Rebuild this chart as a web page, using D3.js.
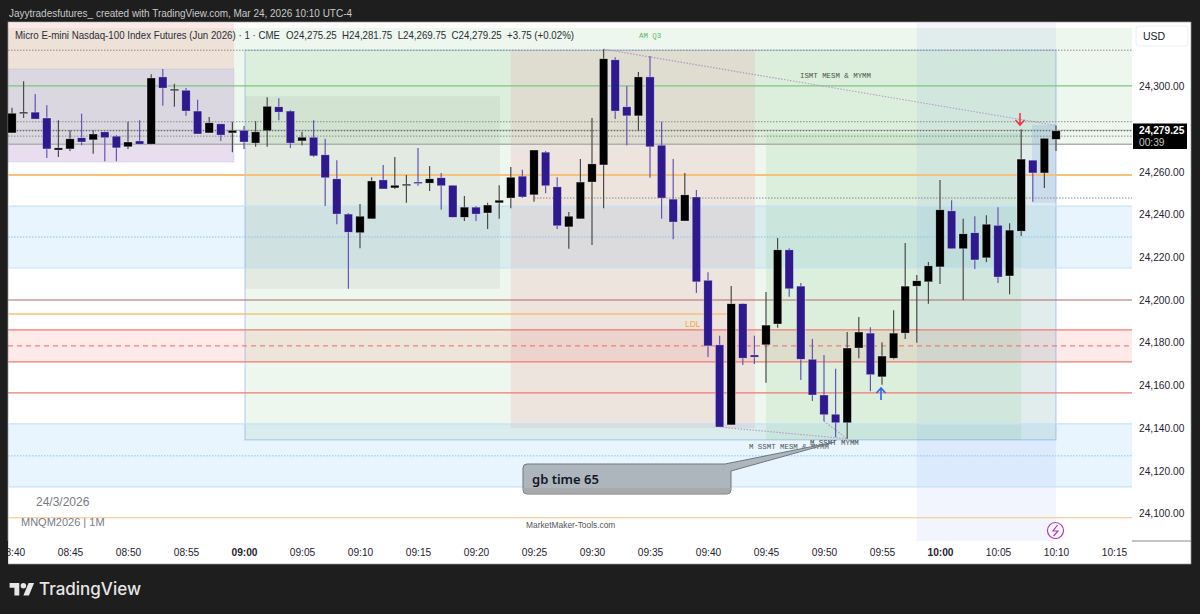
<!DOCTYPE html>
<html>
<head>
<meta charset="utf-8">
<script src="https://cdn.jsdelivr.net/npm/d3@7"></script>
<style>
  html, body { margin: 0; padding: 0; background: #1e1e1e; }
  svg { display: block; }
  text { font-family: "Liberation Sans", Arial, sans-serif; }
  .mono { font-family: "Liberation Mono", monospace; }
</style>
</head>
<body>
<svg id="chart" width="1200" height="614"></svg>
<script>
var firstBar = "08:40";

var opens = [24278.25,24287.5,24288,24285.25,24270.25,24270.75,24276,24275,24278.75,24276.75,
  24271.75,24274.5,24273,24304.5,24298.25,24298.25,24288.5,24278.25,24282.5,24278.25,
  24279.5,24273.5,24279.25,24290.5,24288.5,24274.5,24276.25,24268,24256.75,24240.25,
  24231.5,24238,24256.25,24252.5,24253.75,24255.25,24254.75,24257.25,24253.75,24238.75,
  24243.5,24240.75,24245.5,24247.75,24258,24249.25,24269.25,24253,24234.25,24238,
  24255.25,24263.25,24312.5,24290.5,24286.25,24304.5,24272.5,24247.25,24237,24248.25,
  24209.25,24179,24141.5,24198.25,24174.25,24179,24188.75,24223.5,24206.5,24172.25,
  24155.5,24146.5,24142.5,24177.5,24184.5,24164,24172.75,24184.5,24206.5,24208.5,
  24215.5,24241.75,24224,24231.5,24219.75,24235,24211.25,24232.25,24265.5,24259.5,
  24275.25];
var highs = [24290,24302.5,24296.5,24291.25,24284.25,24279.5,24287.25,24279.5,24278.75,24277.25,
  24283.5,24284.25,24305.75,24308.25,24301.25,24299.25,24293.75,24285.75,24282.5,24283.5,
  24281.5,24283.75,24295,24294.5,24289,24278.75,24284.25,24275.5,24265.5,24240.75,
  24245,24257.5,24263.25,24267,24258.5,24271.25,24262.75,24259.5,24253.75,24248.75,
  24244,24245.5,24253.75,24262.25,24261,24270.25,24269.75,24257.5,24241.25,24266,
  24285.25,24317.5,24313.75,24300.25,24306.75,24314.25,24283.5,24266,24259.5,24251.5,
  24213,24183.25,24206.5,24198.5,24183.25,24203.75,24229,24224.25,24208,24181.75,
  24174.25,24167.75,24185,24192,24187.25,24180.25,24195.25,24226.75,24211.75,24217.75,
  24256.25,24246.75,24238,24239.25,24239.75,24243.5,24236,24280,24265.5,24275.75,
  24281.75];
var lows = [24278.25,24285.25,24284.75,24266.5,24267,24269.75,24272.5,24268.5,24265,24265,
  24270.75,24273,24273,24291,24290.5,24286.25,24277.75,24278.25,24274.5,24269.25,
  24270.75,24271.75,24271.75,24284.25,24271.25,24272.5,24267,24244,24235.5,24205.25,
  24224.25,24238,24252,24252,24245.5,24253.5,24251,24242.25,24238.75,24237,
  24237,24233.25,24238,24243,24247.75,24246,24250,24233.25,24224,24238,
  24225.75,24243,24284.75,24272.5,24279.25,24257.25,24238,24228.5,24237,24203.25,
  24173.25,24140.5,24141.5,24169.5,24170,24161.25,24187,24201.5,24162.5,24152.75,
  24143.25,24135.75,24135,24172.75,24157.25,24160.25,24172.25,24181.75,24180,24198.25,
  24207.5,24224,24200,24214.5,24217.75,24208,24202.75,24230,24246,24252.5,
  24269.75];
var closes = [24287.5,24288,24284.75,24270.75,24271.25,24275.5,24274,24277.75,24276,24271.25,
  24274,24273,24304,24299.25,24298.75,24288.5,24277.75,24283,24277.25,24279.5,
  24274,24278.75,24290.75,24288,24273.5,24276.25,24267.5,24257.25,24240.25,24231.75,
  24239.25,24255.75,24252,24253.75,24254.25,24254.75,24256.75,24253.5,24238.75,24243.5,
  24240.25,24244.5,24246.75,24257.5,24248.25,24270.25,24253.5,24234.75,24239.25,24255.25,
  24263.75,24313,24288.5,24286.25,24304.5,24271.75,24247.75,24236.5,24249.25,24208.5,
  24178.5,24140.5,24198.25,24172.75,24173.25,24188.25,24223.5,24205.25,24172.25,24155.5,
  24146.25,24142.5,24177.5,24185,24165,24173.75,24184.5,24206.5,24209,24216,
  24242.25,24224,24231,24218.75,24235.5,24210.75,24232.75,24266,24259.5,24275.75,
  24279.25];

var priceTicks = [24100,24120,24140,24160,24180,24200,24220,24240,24260,24300];
var timeTicks = ["08:40","08:45","08:50","08:55","09:00","09:05","09:10","09:15","09:20","09:25",
  "09:30","09:35","09:40","09:45","09:50","09:55","10:00","10:05","10:10","10:15"];
var boldTicks = ["09:00","10:00"];

// shaded zones: name, start, end (minutes of the day), top and bottom price
var zoneNames = ["amBand","blueUpper","blueLower","redBand","pinkBox","lilacBox","bigGreen","greyGreen","peach","green2","blueColumn","blueSmall"];
var zoneStart = [500,500,500,500,500,500,540.09,540.09,563,585,598,607.93];
var zoneEnd   = [700,700,700,700,539.14,539.14,610,562.07,584.05,607,610,610];
var zoneTop   = [24327.4,24244,24142,24186,24340,24308.2,24317,24295.5,24317,24278.25,24340,24282];
var zoneBot   = [24273,24215,24112.5,24171,24308.2,24264.6,24134.5,24205.25,24140,24134.5,24087,24245.5];

var solidLevels = [24300.25,24279.5,24273,24258.5,24200,24186,24171,24156.5,24098,24244,24215,24142,24112.5];
var solidKinds  = ["green","grey","greyThick","orange","brown","red","red","red","orangeThin","blue","blue","blue","blue"];
var dottedLevels = [24317,24283.5,24276.75];
var dottedBlue = [24229.5,24127];
var lastPrice = 24279.25;
var midLevel = 24178.5;
var lowOrangeLevel = 24193.5;
var lowOrangeEnd = "09:42";
var rightDotLevel = 24247.75;
var rightDotStart = "09:25";

var headerName = "Micro E-mini Nasdaq-100 Index Futures (Jun 2026) \u00b7 1 \u00b7 CME";
var headerValues = "O24,275.25  H24,281.75  L24,269.75  C24,279.25  +3.75 (+0.02%)";

var zoneStyle = {
  amBand: ["rgba(76,175,80,0.1)", "none"],
  blueUpper: ["rgba(33,150,243,0.1)", "none"],
  blueLower: ["rgba(33,150,243,0.1)", "none"],
  redBand: ["rgba(255,82,82,0.12)", "none"],
  pinkBox: ["rgba(240,100,100,0.15)", "none"],
  lilacBox: ["rgba(120,50,160,0.16)", "rgba(120,100,200,0.12)"],
  bigGreen: ["rgba(76,175,80,0.1)", "rgba(100,150,220,0.4)"],
  greyGreen: ["rgba(100,90,90,0.08)", "none"],
  peach: ["rgba(240,100,120,0.13)", "none"],
  green2: ["rgba(76,175,80,0.1)", "none"],
  blueColumn: ["rgba(70,120,235,0.07)", "none"],
  blueSmall: ["rgba(70,120,235,0.14)", "none"]
};
var levelStyle = {
  green: ["#7cc680", 1.3], grey: ["#a3a7a3", 1], greyThick: ["#adb1ad", 1.5],
  orange: ["#f5c27c", 2], orangeThin: ["#f7c47f", 1.2], brown: ["#b06a66", 1.2],
  red: ["#ef7a72", 1.3], blue: ["#c6e2f9", 1.2]
};

var paneL = 8, paneR = 1132, paneT = 23, paneB = 541;
var upColor = "#000000", downColor = "#2e1a8e";

function minutes(s) {
  var p = s.split(":");
  return +p[0] * 60 + +p[1];
}
function hhmm(m) {
  return d3.format("02")(Math.floor(m / 60)) + ":" + d3.format("02")(m % 60);
}

var x = d3.scaleLinear().domain([minutes("08:40"), minutes("10:10")]).range([12, 1056]);
var y = d3.scaleLinear().domain([24100, 24300]).range([513.5, 86.5]);

var bars = opens.map(function (o, i) {
  return { t: minutes(firstBar) + i, o: o, h: highs[i], l: lows[i], c: closes[i] };
});

var svg = d3.select("#chart");
var defs = svg.append("defs");
defs.append("clipPath").attr("id", "pane").append("rect")
    .attr("x", paneL).attr("y", paneT).attr("width", paneR - paneL).attr("height", paneB - paneT);

// frame
svg.append("rect").attr("x", paneL).attr("y", 22).attr("width", 1183).attr("height", 542)
   .attr("fill", "#ffffff").attr("stroke", "#9a9a9a").attr("stroke-width", 0.7);

var pane = svg.append("g").attr("clip-path", "url(#pane)");

// zones
zoneNames.forEach(function (n, i) {
  pane.append("rect")
      .attr("x", x(zoneStart[i]))
      .attr("y", y(zoneTop[i]))
      .attr("width", x(zoneEnd[i]) - x(zoneStart[i]))
      .attr("height", y(zoneBot[i]) - y(zoneTop[i]))
      .attr("fill", zoneStyle[n][0])
      .attr("stroke", zoneStyle[n][1])
      .attr("stroke-width", n == "bigGreen" ? 1.2 : 1);
});

// horizontal levels
solidLevels.forEach(function (p, i) {
  var st = levelStyle[solidKinds[i]];
  pane.append("line").attr("x1", paneL).attr("x2", paneR)
      .attr("y1", y(p)).attr("y2", y(p))
      .attr("stroke", st[0]).attr("stroke-width", st[1]);
});
pane.append("line").attr("x1", paneL).attr("x2", x(minutes(lowOrangeEnd)))
    .attr("y1", y(lowOrangeLevel)).attr("y2", y(lowOrangeLevel))
    .attr("stroke", "#f5c27c").attr("stroke-width", 1.5);
dottedLevels.forEach(function (p) {
  pane.append("line").attr("x1", paneL).attr("x2", paneR)
      .attr("y1", y(p)).attr("y2", y(p))
      .attr("stroke", "#8a8a8a").attr("stroke-width", 1).attr("stroke-dasharray", "1.5 1.5");
});
pane.append("line").attr("x1", x(minutes(rightDotStart))).attr("x2", paneR)
    .attr("y1", y(rightDotLevel)).attr("y2", y(rightDotLevel))
    .attr("stroke", "#8a8a8a").attr("stroke-width", 1).attr("stroke-dasharray", "1.5 1.5");
dottedBlue.forEach(function (p) {
  pane.append("line").attr("x1", paneL).attr("x2", paneR)
      .attr("y1", y(p)).attr("y2", y(p))
      .attr("stroke", "#8cc2ec").attr("stroke-width", 1).attr("stroke-dasharray", "1.5 1.5");
});
pane.append("line").attr("x1", paneL).attr("x2", paneR)
    .attr("y1", y(midLevel)).attr("y2", y(midLevel))
    .attr("stroke", "#ef6a62").attr("stroke-width", 1).attr("stroke-dasharray", "5 4");
pane.append("line").attr("x1", paneL).attr("x2", paneR)
    .attr("y1", y(lastPrice)).attr("y2", y(lastPrice))
    .attr("stroke", "#555").attr("stroke-width", 1).attr("stroke-dasharray", "1 2");

// smt connectors
var smt = [
  [minutes("09:31"), 24317.5, minutes("10:10"), 24281.75],
  [minutes("09:41"), 24140.5, minutes("09:52"), 24135],
  [minutes("09:50"), 24143.25, minutes("09:52"), 24135]
];
smt.forEach(function (s) {
  pane.append("line").attr("x1", x(s[0])).attr("y1", y(s[1])).attr("x2", x(s[2])).attr("y2", y(s[3]))
      .attr("stroke", "#b49ac4").attr("stroke-width", 1.1).attr("stroke-dasharray", "1.5 1.5");
});

// candles
var candles = pane.selectAll("g.bar").data(bars).enter().append("g").attr("class", "bar");
candles.append("line")
    .attr("x1", function (d) { return x(d.t); })
    .attr("x2", function (d) { return x(d.t); })
    .attr("y1", function (d) { return y(d.h); })
    .attr("y2", function (d) { return y(d.l); })
    .attr("stroke", function (d) { return d.c >= d.o ? "#4a4a4a" : "#6355b3"; })
    .attr("stroke-width", 1.2);
candles.append("rect")
    .attr("x", function (d) { return x(d.t) - 4.2; })
    .attr("width", 8.4)
    .attr("y", function (d) { return y(Math.max(d.o, d.c)); })
    .attr("height", function (d) { return Math.max(1.5, Math.abs(y(d.o) - y(d.c))); })
    .attr("fill", function (d) { return d.c >= d.o ? upColor : downColor; })
    .attr("stroke", "rgba(255,255,255,0.55)")
    .attr("stroke-width", 0.6);

// axes
var yAxis = d3.axisRight(y).tickValues(priceTicks).tickSize(0).tickPadding(0)
    .tickFormat(function (d) { return d3.format(",.2f")(d); });
var priceG = svg.append("g").attr("transform", "translate(1139,0)").call(yAxis);
priceG.select(".domain").remove();
priceG.selectAll("text").attr("font-size", 10.2).attr("fill", "#1f2430")
    .style("font-family", '"Liberation Sans", sans-serif');

var xAxis = d3.axisBottom(x).tickValues(timeTicks.map(minutes)).tickSize(0).tickPadding(0)
    .tickFormat(hhmm);
var timeG = svg.append("g").attr("transform", "translate(0,549)").call(xAxis);
timeG.select(".domain").remove();
timeG.selectAll("text").attr("font-size", 10.2).attr("fill", "#1f2430")
    .style("font-family", '"Liberation Sans", sans-serif')
    .attr("font-weight", function (d) { return boldTicks.indexOf(hhmm(d)) >= 0 ? "bold" : "normal"; });
svg.append("rect").attr("x", 0).attr("y", 541).attr("width", 8).attr("height", 30).attr("fill", "#1e1e1e");

svg.append("line").attr("x1", paneR).attr("x2", 1191).attr("y1", 541).attr("y2", 541)
   .attr("stroke", "#8a8a8a").attr("stroke-width", 1);

// usd box
svg.append("rect").attr("x", 1136).attr("y", 26).attr("width", 52).attr("height", 20).attr("rx", 3)
   .attr("fill", "#fff").attr("stroke", "#eceef2");
svg.append("text").attr("x", 1143).attr("y", 40).attr("font-size", 10.5).attr("fill", "#131722").text("USD");

// last price tag
svg.append("rect").attr("x", 1133).attr("y", 123.5).attr("width", 54).attr("height", 25.5).attr("fill", "#000");
svg.append("text").attr("x", 1139).attr("y", 134).attr("font-size", 10.2).attr("font-weight", "bold").attr("fill", "#fff")
   .text(d3.format(",.2f")(lastPrice));
svg.append("text").attr("x", 1139).attr("y", 146).attr("font-size", 10.2).attr("fill", "#c8c8c8").text("00:39");

// header texts
svg.append("text").attr("x", 9).attr("y", 17).attr("font-size", 11.5).attr("fill", "#c9c9c9")
   .attr("textLength", 343).attr("lengthAdjust", "spacingAndGlyphs")
   .text("Jayytradesfutures_ created with TradingView.com, Mar 24, 2026 10:10 UTC-4");
svg.append("text").attr("x", 15).attr("y", 39).attr("font-size", 11).attr("fill", "#2a2e39")
   .attr("textLength", 265).attr("lengthAdjust", "spacingAndGlyphs").text(headerName);
svg.append("text").attr("x", 286).attr("y", 39).attr("font-size", 11).attr("fill", "#2a2e39")
   .attr("textLength", 288).attr("lengthAdjust", "spacingAndGlyphs")
   .style("white-space", "pre").text(headerValues);

// chart notes
function note(tx, ty, size, color, str, cls) {
  return svg.append("text").attr("class", cls || null).attr("x", tx).attr("y", ty)
      .attr("font-size", size).attr("fill", color).text(str);
}
note(639, 38, 7.4, "#5cb862", "AM Q3", "mono");
note(800, 78, 7.4, "#4c564f", "ISMT MESM & MYMM", "mono");
note(685, 327, 8.4, "#f2a93b", "LDL");
note(749, 449, 7.4, "#50565a", "M SSMT MESM & MYMM", "mono");
note(810, 445, 7.4, "#43494d", "M SSMT MYMM", "mono");
note(36, 506, 12, "#787b86", "24/3/2026");
note(21, 526, 11, "#787b86", "MNQM2026 | 1M");
note(526, 528, 8.4, "#555", "MarketMaker-Tools.com");

// callout
var callPath = "M527,464 H725 L835,442 L731,471 V490 Q731,494 727,494 H527 Q523,494 523,490 V468 Q523,464 527,464 Z";
svg.append("path").attr("d", callPath).attr("fill", "#adb5bd").attr("stroke", "#6f777e").attr("stroke-width", 1);
svg.append("path").attr("d", "M523.5,488 H730.5 V490 Q730.5,493.5 727,493.5 H527 Q523.5,493.5 523.5,490 Z").attr("fill", "#a9a9a9");
svg.append("text").attr("x", 532).attr("y", 484).attr("font-size", 13).attr("font-weight", 600)
   .style("font-family", '"Noto Sans", sans-serif').attr("fill", "#131722").text("gb time 65");

// arrows
svg.append("path").attr("d", "M1020,113 V125 M1015.5,120 L1020,125 L1024.5,120")
   .attr("fill", "none").attr("stroke", "#f23645").attr("stroke-width", 1.6);
svg.append("path").attr("d", "M881,400 V388 M876.5,393 L881,388 L885.5,393")
   .attr("fill", "none").attr("stroke", "#2962ff").attr("stroke-width", 1.6);

// flash icon
svg.append("circle").attr("cx", 1055.5).attr("cy", 530.5).attr("r", 8)
   .attr("fill", "#fff").attr("stroke", "#b62fc4").attr("stroke-width", 1.2);
svg.append("path").attr("d", "M1057.5,525 L1053,531 H1058 L1053.5,536").attr("fill", "none")
   .attr("stroke", "#b62fc4").attr("stroke-width", 1.2);

// logo
var logo = svg.append("g").attr("transform", "translate(9.6,580.2) scale(0.69)").attr("fill", "#e6e6e6");
logo.append("path").attr("d", "M14 22H7V11H0V4h14v18zM28 22h-8l7.5-18h8L28 22z");
logo.append("circle").attr("cx", 20).attr("cy", 8).attr("r", 4);
svg.append("text").attr("x", 39).attr("y", 595).attr("font-size", 17).attr("font-weight", 500)
   .style("font-family", "Inter, sans-serif").attr("fill", "#e6e6e6").text("TradingView");
</script>
</body>
</html>
